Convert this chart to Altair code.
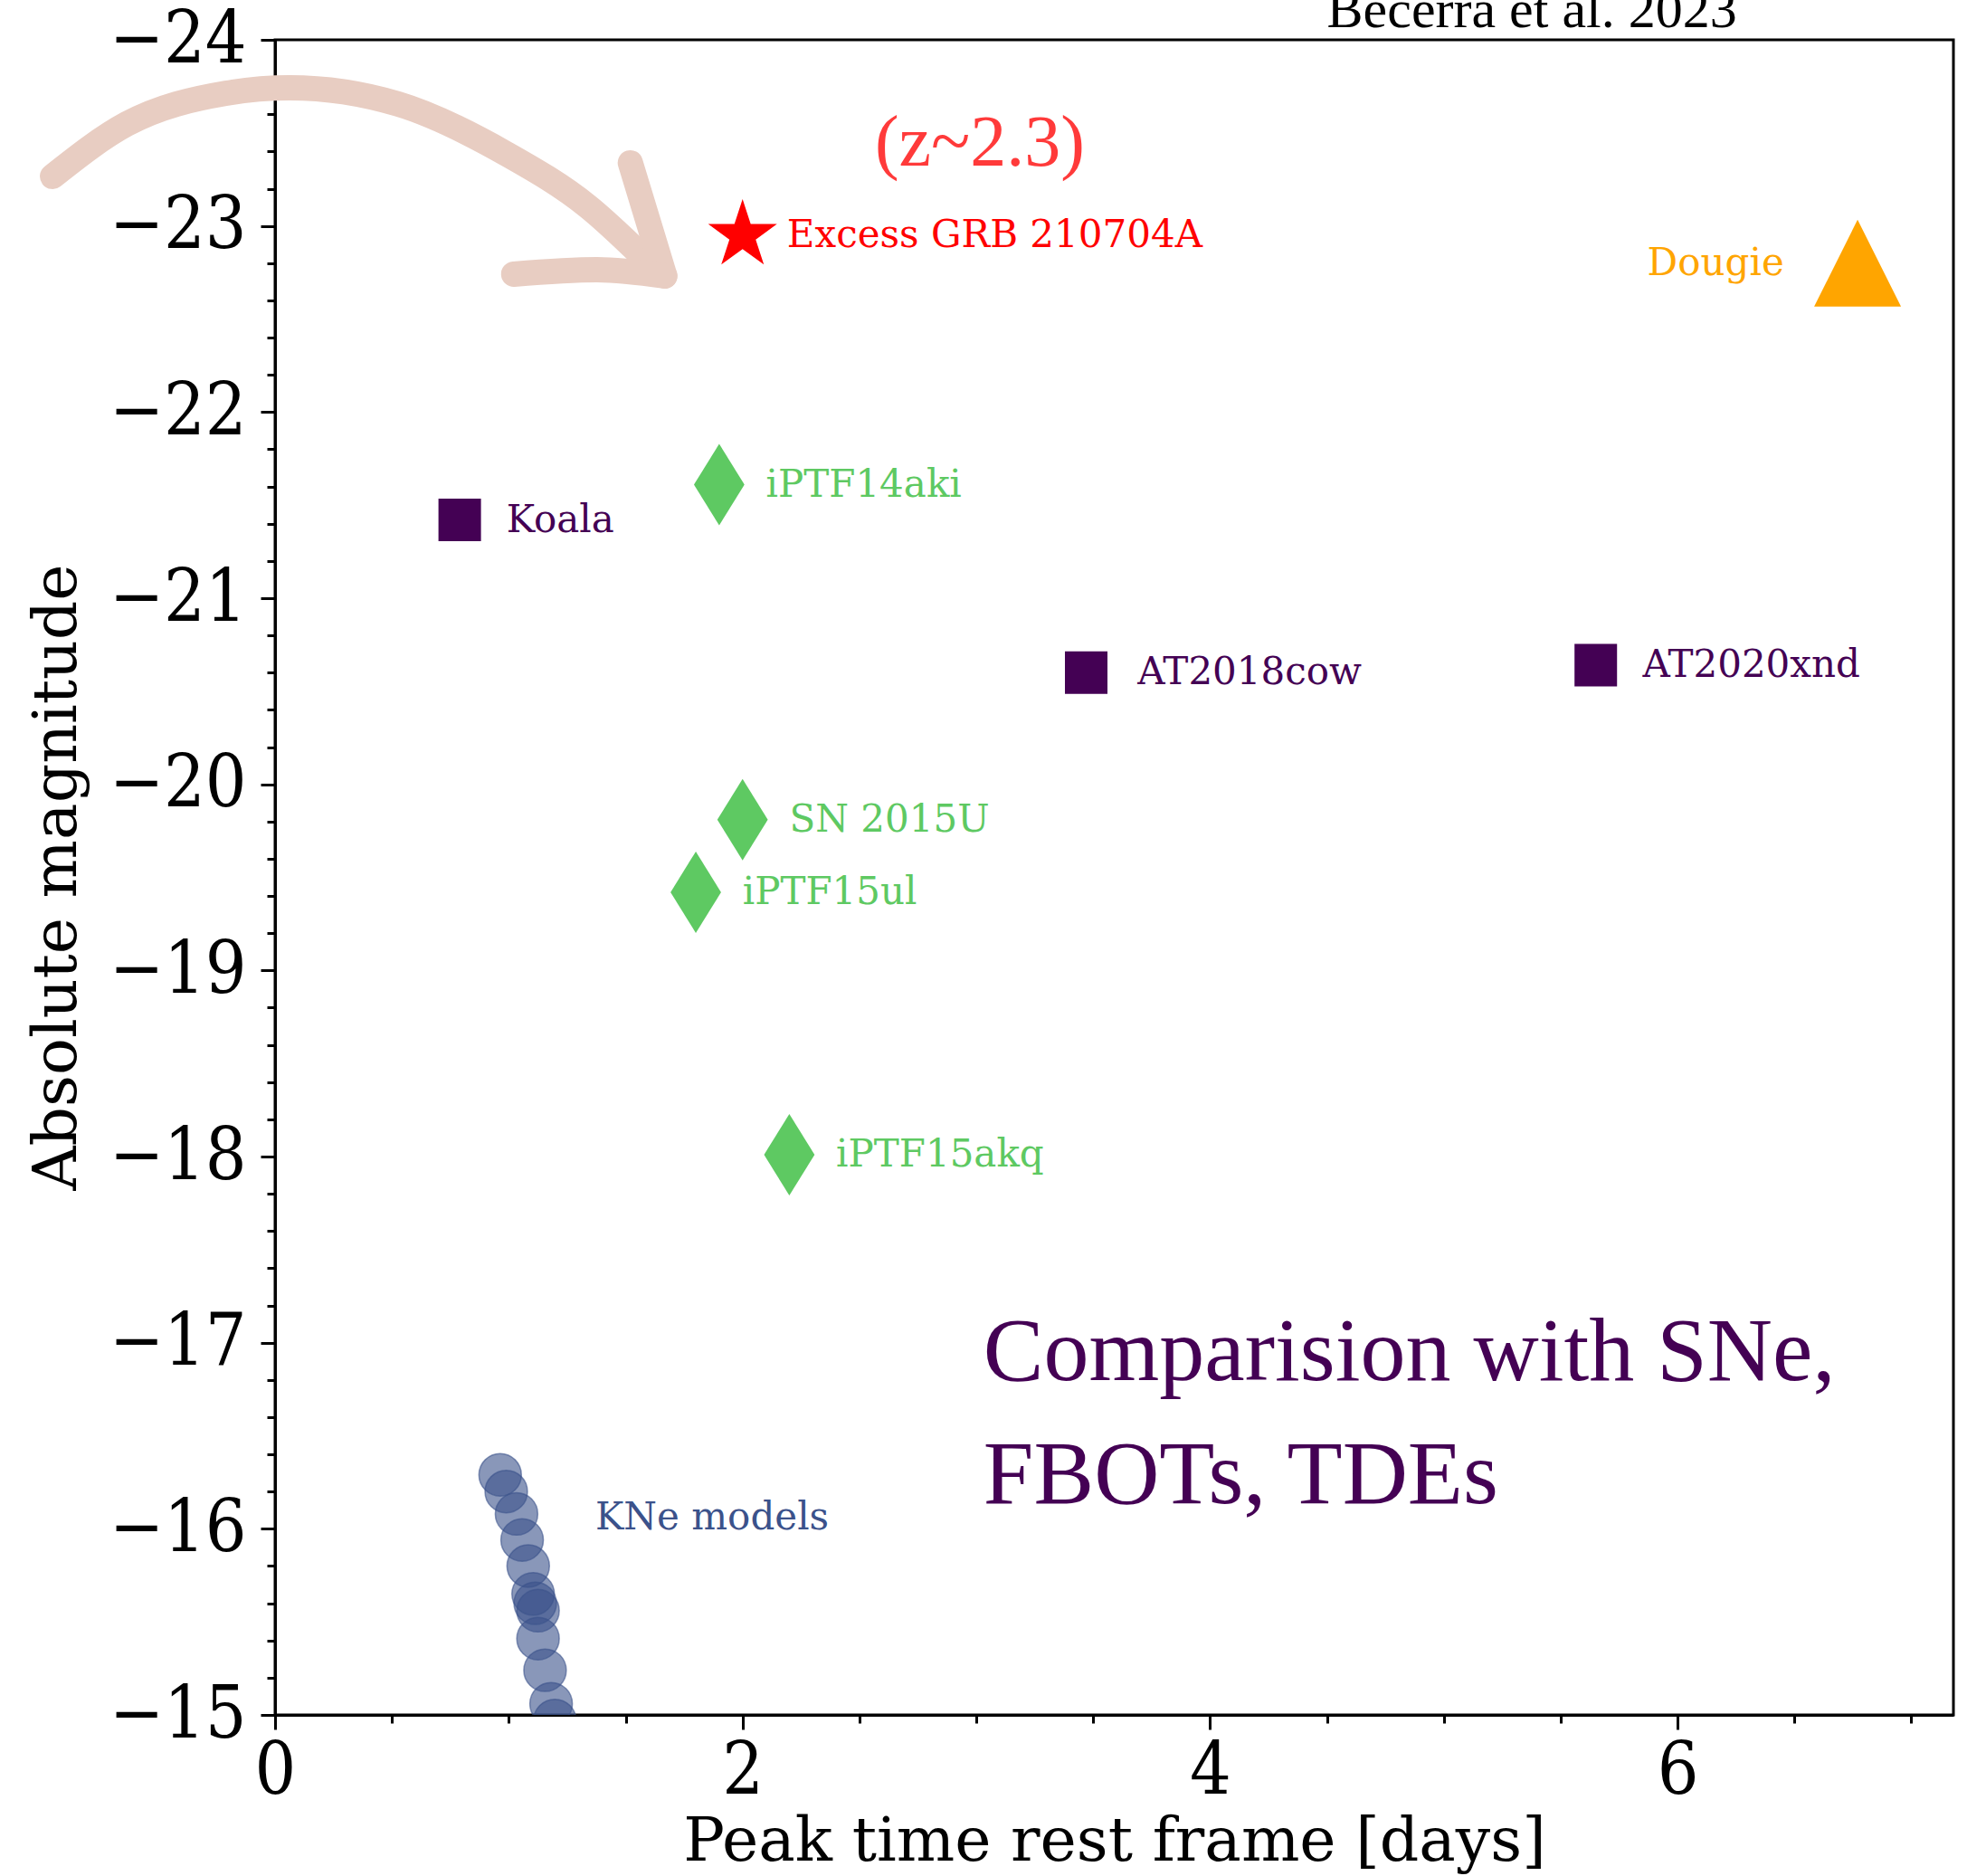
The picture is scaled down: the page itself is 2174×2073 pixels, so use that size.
import math
import altair as alt
import pandas as pd

# ---------------- data ----------------
names = ["Excess GRB 210704A", "Dougie", "Koala", "iPTF14aki", "AT2018cow",
         "AT2020xnd", "SN 2015U", "iPTF15ul", "iPTF15akq"]
kinds = ["GRB", "TDE", "FBOT", "SN", "FBOT", "FBOT", "SN", "SN", "SN"]
peak_time = [2.0, 6.77, 0.79, 1.90, 3.47, 5.65, 2.0, 1.80, 2.20]
abs_mag = [-22.95, -22.80, -21.42, -21.61, -20.60, -20.64, -19.81, -19.42, -18.01]
label_x = [2.19, 5.87, 0.99, 2.10, 3.69, 5.85, 2.20, 2.00, 2.40]

kne_time = [0.963, 0.989, 1.033, 1.057, 1.083, 1.104, 1.113, 1.125, 1.125, 1.155, 1.181, 1.197]
kne_mag = [-16.29, -16.20, -16.08, -15.94, -15.80, -15.65, -15.60, -15.56, -15.41, -15.24, -15.06, -14.97]
kne_label = "KNe models"
kne_label_x = 1.37
kne_label_y = -16.06

# hand-drawn arrow (data coordinates)
arrow_part = ["shaft"] * 8 + ["barb1"] * 2 + ["barb2"] * 3
arrow_x = [-0.952, -0.634, -0.209, 0.062, 0.526, 0.990, 1.338, 1.590,
           1.520, 1.667,
           1.021, 1.377, 1.667]
arrow_y = [-23.266, -23.548, -23.713, -23.742, -23.655, -23.387, -23.105, -22.814,
           -23.339, -22.731,
           -22.741, -22.765, -22.731]

note_z = "(z~2.3)"
note_z_x, note_z_y = 3.015, -23.324
note_ref = "Becerra et al. 2023"
note_ref_x, note_ref_y = 4.50, -24.068
note_cmp = ["Comparision with SNe,", "FBOTs, TDEs"]
note_cmp_x = [3.03, 3.03]
note_cmp_y = [-16.80, -16.14]

x_major = [0, 2, 4, 6]
x_minor = [0.5, 1.0, 1.5, 2.5, 3.0, 3.5, 4.5, 5.0, 5.5, 6.5, 7.0]
y_major = [-24, -23, -22, -21, -20, -19, -18, -17, -16, -15]
y_minor = [round(-24 + 0.2 * i, 1) for i in range(46)]

# ---------------- tables ----------------
obj = pd.DataFrame({"name": names, "kind": kinds, "t": peak_time,
                    "m": abs_mag, "lx": label_x})
kne = pd.DataFrame({"t": kne_time, "m": kne_mag})
kne_lab = pd.DataFrame({"name": [kne_label], "kind": ["KNe"],
                        "lx": [kne_label_x], "m": [kne_label_y]})
arrow = pd.DataFrame({"part": arrow_part, "x": arrow_x, "y": arrow_y,
                      "i": list(range(len(arrow_x)))})
notes_z = pd.DataFrame({"txt": [note_z], "x": [note_z_x], "y": [note_z_y]})
notes_ref = pd.DataFrame({"txt": [note_ref], "x": [note_ref_x], "y": [note_ref_y]})
notes_cmp = pd.DataFrame({"txt": note_cmp, "x": note_cmp_x, "y": note_cmp_y})

# ---------------- styles ----------------
def star_path(inner=0.381966):
    pts = []
    for i in range(10):
        a = math.radians(-90 + 36 * i)
        r = 1.0 if i % 2 == 0 else inner
        pts.append(f"{r * math.cos(a):.4f},{r * math.sin(a):.4f}")
    return "M" + "L".join(pts) + "Z"

STAR = star_path()
TRI = "M0,-1L1,1L-1,1Z"
DIAM = "M0,-1L0.62,0L0,1L-0.62,0Z"
SQUARE = "M-1,-1L1,-1L1,1L-1,1Z"

kind_domain = ["GRB", "TDE", "FBOT", "SN", "KNe"]
kind_colors = ["#ff0000", "#ffa500", "#440154", "#5ec962", "#3b528b"]
color_scale = alt.Scale(domain=kind_domain, range=kind_colors)

# marker shape and area per kind
marker_style = {"GRB": (STAR, 6400), "TDE": (TRI, 9216),
                "FBOT": (SQUARE, 2209), "SN": (DIAM, 8100)}

xs = alt.Scale(domain=[0, 7.18], nice=False, zero=False)
ys = alt.Scale(domain=[-24, -15], nice=False, zero=False, reverse=True)

W, H = 1855, 1851

x_major_axis = alt.Axis(values=x_major, format="d", orient="bottom", grid=False,
                        tickSize=16, tickWidth=3, labelPadding=7, labelFlush=False,
                        title="Peak time rest frame [days]", titleFontSize=68,
                        titleY=160, titleBaseline="alphabetic")
x_minor_axis = alt.Axis(values=x_minor, orient="bottom", grid=False, labels=False,
                        domain=False, tickSize=9, tickWidth=3, title=None)
y_major_axis = alt.Axis(values=y_major, format="d", orient="left", grid=False,
                        tickSize=16, tickWidth=3, labelPadding=16, labelFlush=False,
                        title="Absolute magnitude", titleFontSize=68, titleAngle=270,
                        titleX=-221, titleY=925, titleBaseline="alphabetic",
                        titleAlign="center")
y_minor_axis = alt.Axis(values=y_minor, orient="left", grid=False, labels=False,
                        domain=False, tickSize=9, tickWidth=3, title=None)

# ---------------- layers ----------------
arrow_layer = alt.Chart(arrow).mark_line(
    color="#e8cdc2", strokeWidth=28, strokeCap="round", strokeJoin="round",
    interpolate="monotone"
).encode(
    x=alt.X("x:Q", scale=xs, axis=None),
    y=alt.Y("y:Q", scale=ys, axis=None),
    detail="part:N",
    order="i:Q",
)

kne_layer = alt.Chart(kne).mark_point(
    shape="circle", filled=True, fill="#3b528b", fillOpacity=0.6,
    stroke="#3b528b", strokeOpacity=0.6, strokeWidth=1.5, size=2200,
    opacity=1, clip=True
).encode(
    x=alt.X("t:Q", scale=xs, axis=x_minor_axis),
    y=alt.Y("m:Q", scale=ys, axis=y_minor_axis),
)

obj_layers = []
for i, (k, (shp, sz)) in enumerate(marker_style.items()):
    ax_x = x_major_axis if i == 0 else None
    ax_y = y_major_axis if i == 0 else None
    obj_layers.append(
        alt.Chart(obj).transform_filter(alt.datum.kind == k).mark_point(
            shape=shp, size=sz, filled=True, opacity=1, strokeWidth=0
        ).encode(
            x=alt.X("t:Q", scale=xs, axis=ax_x),
            y=alt.Y("m:Q", scale=ys, axis=ax_y),
            color=alt.Color("kind:N", scale=color_scale, legend=None),
        )
    )

label_layer = alt.Chart(obj).mark_text(
    align="left", baseline="middle", font="DejaVu Serif", fontSize=42
).encode(
    x=alt.X("lx:Q", scale=xs, axis=None),
    y=alt.Y("m:Q", scale=ys, axis=None),
    text="name:N",
    color=alt.Color("kind:N", scale=color_scale, legend=None),
)

kne_label_layer = alt.Chart(kne_lab).mark_text(
    align="left", baseline="middle", font="DejaVu Serif", fontSize=42
).encode(
    x=alt.X("lx:Q", scale=xs, axis=None),
    y=alt.Y("m:Q", scale=ys, axis=None),
    text="name:N",
    color=alt.Color("kind:N", scale=color_scale, legend=None),
)

z_layer = alt.Chart(notes_z).mark_text(
    align="center", baseline="alphabetic", font="Liberation Serif", fontSize=80,
    color="#ff3a3a"
).encode(
    x=alt.X("x:Q", scale=xs, axis=None),
    y=alt.Y("y:Q", scale=ys, axis=None),
    text="txt:N",
)

ref_layer = alt.Chart(notes_ref).mark_text(
    align="left", baseline="alphabetic", font="Liberation Serif", fontSize=60,
    color="black"
).encode(
    x=alt.X("x:Q", scale=xs, axis=None),
    y=alt.Y("y:Q", scale=ys, axis=None),
    text="txt:N",
)

cmp_layer = alt.Chart(notes_cmp).mark_text(
    align="left", baseline="alphabetic", font="Liberation Serif", fontSize=100,
    color="#440154"
).encode(
    x=alt.X("x:Q", scale=xs, axis=None),
    y=alt.Y("y:Q", scale=ys, axis=None),
    text="txt:N",
)

chart = alt.layer(
    kne_layer, *obj_layers, label_layer, kne_label_layer,
    z_layer, ref_layer, cmp_layer, arrow_layer
).resolve_axis(
    x="independent", y="independent"
).properties(
    width=W, height=H,
    autosize=alt.AutoSizeParams(type="none"),
    padding={"left": 304, "top": 44, "right": 15, "bottom": 178},
    background="white",
).configure_axis(
    labelFont="DejaVu Serif Condensed", labelFontSize=80, labelColor="black",
    titleFont="DejaVu Serif", titleColor="black", titleFontWeight="normal",
    tickColor="black", domainColor="black", domainWidth=3,
).configure_view(
    stroke="black", strokeWidth=3
)

chart.save("out.html", embed_options={"renderer": "svg", "actions": False})
